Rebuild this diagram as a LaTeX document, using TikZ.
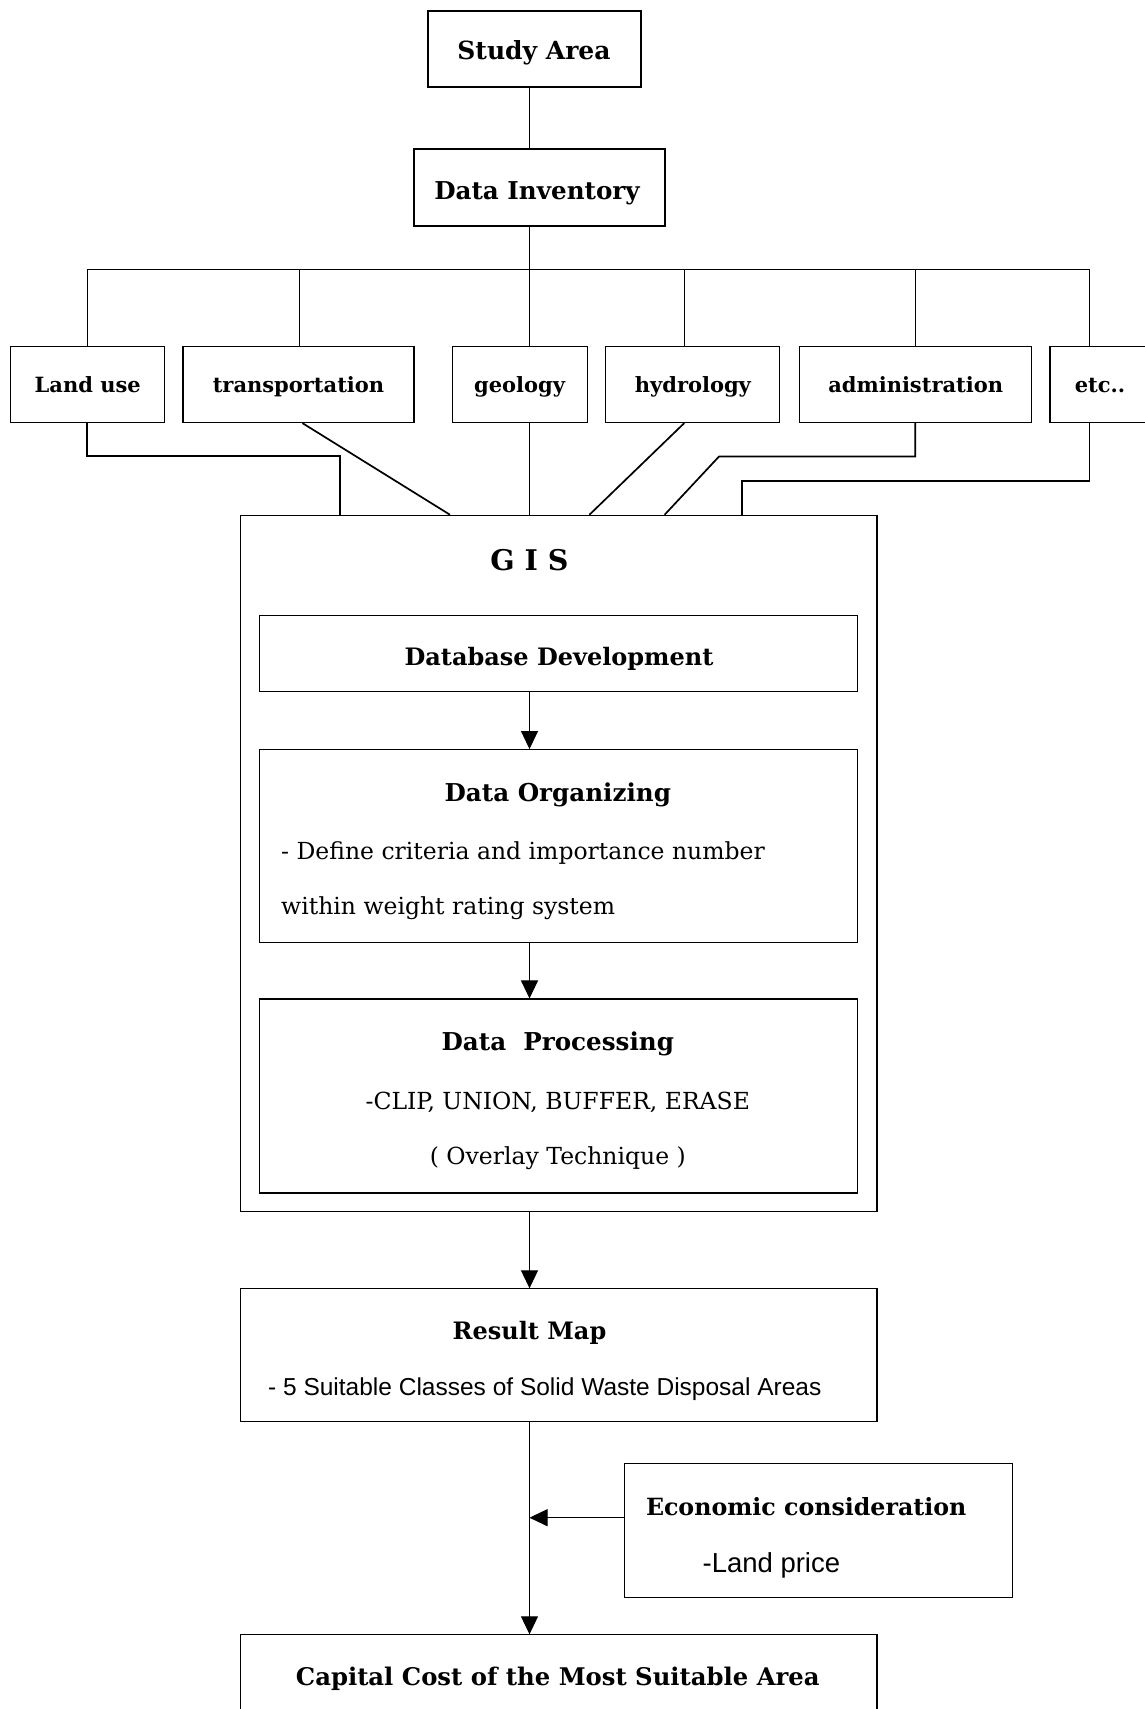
\documentclass[tikz,border=0pt]{standalone}
\usepackage{fontspec}
\setmainfont{DejaVu Serif}
\newfontfamily\sansf{Liberation Sans}
\usetikzlibrary{arrows.meta}
\begin{document}
\begin{tikzpicture}[x=1pt,y=-1pt,
  ln/.style={line width=1pt},
  thk/.style={line width=1.7pt},
  arr/.style={line width=1pt,-{Triangle[length=18pt,width=17pt]}},
  boxst/.style={draw,line width=1.1pt,inner sep=0pt},
  lab/.style={inner sep=0pt,font=\fontsize{24}{28}\selectfont\bfseries},
  rowlab/.style={font=\fontsize{21}{25}\selectfont\bfseries,text height=20pt,text depth=4pt},
  txt/.style={inner sep=0pt,font=\fontsize{23.5}{28}\selectfont},
  stxt/.style={inner sep=0pt,font=\fontsize{24.5}{28}\selectfont\sansf},
]
\useasboundingbox[fill=white] (0,0) rectangle (1144,1709);

% top
\node[boxst,minimum width=213pt,minimum height=76pt] (study) at (534.5,49) {};
\node[lab,font=\fontsize{25}{30}\selectfont\bfseries] (studyt) at (534,52.3) {Study Area};
\node[boxst,minimum width=251pt,minimum height=77pt] (inv) at (539.5,187.5) {};
\node[lab,font=\fontsize{24.6}{30}\selectfont\bfseries] (invt) at (537,192.8) {Data Inventory};

\coordinate (b1) at (87.2,269.1);
\coordinate (b2) at (299.6,269.1);
\coordinate (b3) at (529.5,269.1);
\coordinate (b4) at (684.2,269.1);
\coordinate (b5) at (915.2,269.1);
\coordinate (b6) at (1089.5,269.1);

\draw[ln] (b3 |- study.south) -- (b3 |- inv.north);
\draw[ln] (b3 |- inv.south) -- (b3);
\draw[ln] (b1) -- (b6);

% row
\node[boxst,rowlab,minimum width=153.6pt,minimum height=76pt] (lu) at (87.7,384.6) {Land use};
\node[boxst,rowlab,minimum width=231pt,minimum height=76pt] (tr) at (298.5,384.6) {transportation};
\node[boxst,rowlab,minimum width=135pt,minimum height=76pt] (ge) at (519.6,384.6) {geology};
\node[boxst,rowlab,minimum width=174pt,minimum height=76pt] (hy) at (692.9,384.6) {hydrology};
\node[boxst,rowlab,minimum width=232pt,minimum height=76pt] (ad) at (915.7,384.6) {administration};
\node[boxst,rowlab,minimum width=100pt,minimum height=76pt] (etc) at (1100,384.6) {etc..};

\draw[ln] (b1) -- (b1 |- lu.north);
\draw[ln] (b2) -- (b2 |- tr.north);
\draw[ln] (b3) -- (b3 |- ge.north);
\draw[ln] (b4) -- (b4 |- hy.north);
\draw[ln] (b5) -- (b5 |- ad.north);
\draw[ln] (b6) -- (b6 |- etc.north);

% GIS frame
\node[boxst,minimum width=636.2pt,minimum height=696.2pt] (gis) at (558.9,863.4) {};
\node[lab,font=\fontsize{28.5}{32}\selectfont\bfseries] (gislab) at (529.5,560) {G I S};

\coordinate (c1) at (339.9,0);
\coordinate (c2) at (450,0);
\coordinate (c4) at (589.4,0);
\coordinate (c5) at (664.6,0);
\coordinate (c5k) at (719,456.5);
\coordinate (c6) at (742,0);

\draw[thk] (b1 |- lu.south) -- ++(0,32.7) -| (gis.north -| c1);
\draw[thk] ([xshift=4pt]tr.south) -- (gis.north -| c2);
\draw[ln] (b3 |- ge.south) -- (b3 |- gis.north);
\draw[thk] (b4 |- hy.south) -- (gis.north -| c4);
\draw[thk] (b5 |- ad.south) -- (b5 |- c5k) -- (c5k) -- (gis.north -| c5);
\draw[thk] (b6 |- etc.south) -- ++(0,57.8) -| (gis.north -| c6);

% inside GIS
\node[boxst,minimum width=598pt,minimum height=76.2pt] (db) at (558.4,653.7) {};
\node[lab] (dbt) at (559,658.5) {Database Development};
\node[boxst,minimum width=598pt,minimum height=192.8pt] (org) at (558.4,846) {};
\node[lab,font=\fontsize{24.6}{30}\selectfont\bfseries] (orgt) at (557.8,794.5) {Data Organizing};
\node[txt,anchor=west] (org1) at (281,853) {- Define criteria and importance number};
\node[txt,anchor=west] (org2) at (281,908.6) {within weight rating system};

\node[boxst,minimum width=598pt,minimum height=194pt] (proc) at (558.4,1096) {};
\node[lab,font=\fontsize{24.6}{30}\selectfont\bfseries] (proct) at (557.8,1043.7) {Data\ \ Processing};
\node[txt] (proc1) at (557.8,1102.5) {-CLIP, UNION, BUFFER, ERASE};
\node[txt] (proc2) at (557.8,1158) {( Overlay Technique )};

\draw[arr] (b3 |- db.south) -- (b3 |- org.north);
\draw[arr] (b3 |- org.south) -- (b3 |- proc.north);

% result
\node[boxst,minimum width=636.2pt,minimum height=132.9pt] (res) at (558.9,1355.3) {};
\node[lab] (rest) at (529.5,1332.4) {Result Map};
\node[stxt] (ress) at (544.8,1389) {- 5 Suitable Classes of Solid Waste Disposal Areas};
\draw[arr] (b3 |- gis.south) -- (b3 |- res.north);

% economic
\node[boxst,minimum width=387.8pt,minimum height=134pt] (eco) at (818.2,1530.2) {};
\node[lab,font=\fontsize{23.7}{28}\selectfont\bfseries] (ecot) at (806.2,1506.7) {Economic consideration};
\node[stxt,font=\fontsize{27.5}{32}\selectfont\sansf] (ecos) at (771.4,1565.5) {-Land price};

% capital
\node[boxst,minimum width=636.2pt,minimum height=110pt,anchor=north] (cap) at (558.9,1634.3) {};
\node[lab,font=\fontsize{24.3}{28}\selectfont\bfseries] (capt) at (557.8,1678.8) {Capital Cost of the Most Suitable Area};

\coordinate (m) at (529.5,1517.7);
\draw[arr] (b3 |- res.south) -- (b3 |- cap.north);
\draw[arr] (eco.west |- m) -- (m);
\end{tikzpicture}
\end{document}
